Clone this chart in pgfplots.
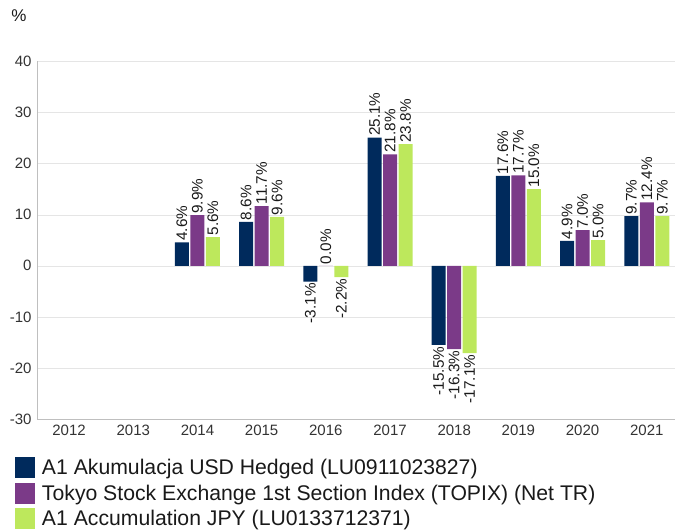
\documentclass[border=0pt]{standalone}
\usepackage{fontspec}
\setmainfont{Liberation Sans}
\usepackage{pgfplots}
\pgfplotsset{compat=1.18}
\definecolor{cnavy}{HTML}{002A5C}
\definecolor{cpurple}{HTML}{7B3A88}
\definecolor{clime}{HTML}{BDE85C}
\begin{document}
\begin{tikzpicture}
\begin{axis}[
  name=ax,
  at={(37pt,113pt)}, anchor=south west,
  scale only axis, width=638pt, height=357.5pt,
  ybar=1.5pt, bar width=14pt,
  xmin=-0.5, xmax=9.44,
  ymin=-30, ymax=40,
  xtick={0,...,9},
  xticklabels={2012,2013,2014,2015,2016,2017,2018,2019,2020,2021},
  ytick={-30,-20,...,40},
  major tick length=0pt,
  axis lines*=left,
  axis line style={draw=black!25},
  ymajorgrids, grid style={draw=black!10},
  /pgf/number format/assume math mode=true,
  tick label style={font=\fontsize{15}{18}\selectfont, text=black!80},
  yticklabel style={xshift=-2pt},
  xticklabel style={yshift=-2.5pt},
  nodes near coords={\pgfmathprintnumber[fixed,fixed zerofill,precision=1,assume math mode=true]{\pgfplotspointmeta}\%},
  visualization depends on={rawy \as \rawy},
  every node near coord/.append style={font=\fontsize{15.3}{18}\selectfont, text=black!90, rotate=90, inner sep=1.5pt,
     /utils/exec={\pgfmathparse{\rawy<0}\ifdim\pgfmathresult pt>0.5pt \def\myanchor{east}\else\def\myanchor{west}\fi},
     anchor=\myanchor},
  legend style={at={(0,0)}, anchor=north west, xshift=-22pt, yshift=-38pt, draw=none, fill=none,
     inner sep=0pt, outer sep=0pt, row sep=4.75pt, font=\fontsize{21.2}{25}\selectfont, text=black!90,
     nodes={inner sep=0pt}, /tikz/every odd column/.append style={column sep=7pt}},
  legend cell align=left,
  legend image code/.code={\fill[#1] (0pt,-10.5pt) rectangle (20pt,10.5pt);},
]
\addplot[fill=cnavy, draw=none] coordinates {(2,4.6) (3,8.6) (4,-3.1) (5,25.1) (6,-15.5) (7,17.6) (8,4.9) (9,9.7)};
\addplot[fill=cpurple, draw=none] coordinates {(2,9.9) (3,11.7) (4,0.0) (5,21.8) (6,-16.3) (7,17.7) (8,7.0) (9,12.4)};
\addplot[fill=clime, draw=none] coordinates {(2,5.6) (3,9.6) (4,-2.2) (5,23.8) (6,-17.1) (7,15.0) (8,5.0) (9,9.7)};
\legend{A1 Akumulacja USD Hedged (LU0911023827),Tokyo Stock Exchange 1st Section Index (TOPIX) (Net TR),A1 Accumulation JPY (LU0133712371)}
\end{axis}
\node[font=\fontsize{17}{20}\selectfont, text=black!90] at ([xshift=-18pt, yshift=46pt]ax.north west) {\%};
\pgfresetboundingbox
\path (0pt,0pt) rectangle (675pt,532pt);
\end{tikzpicture}
\end{document}
